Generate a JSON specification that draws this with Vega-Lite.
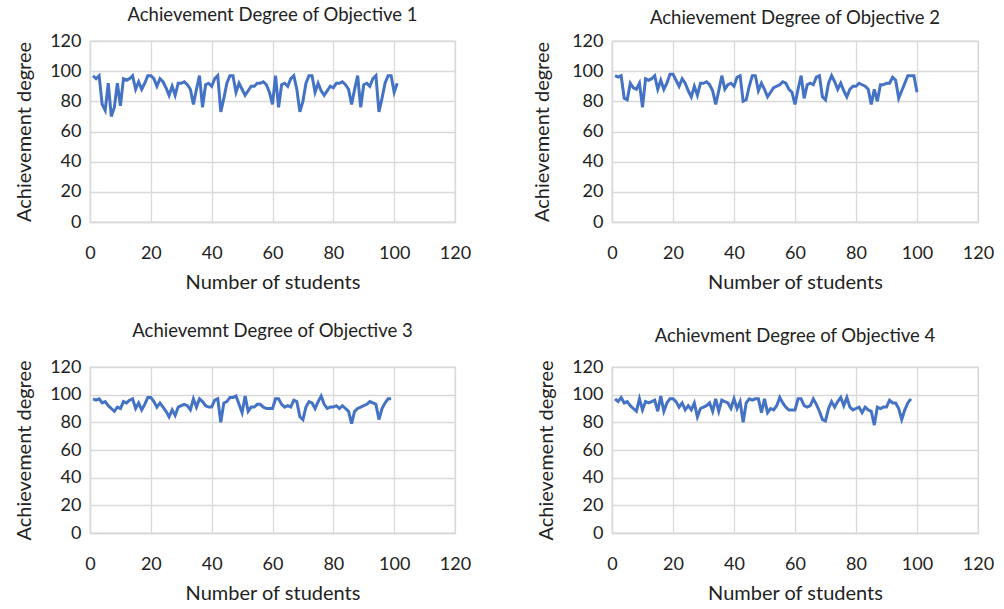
{
  "$schema": "https://vega.github.io/schema/vega-lite/v6.json",
  "background": "white",
  "padding": {"left": 14, "top": 5, "right": 5, "bottom": 5},
  "config": {
    "font": "Lato",
    "view": {"stroke": "#d9d9d9", "strokeWidth": 1.3},
    "axis": {
      "grid": true, "gridColor": "#d9d9d9", "gridWidth": 1.3,
      "domain": true, "domainColor": "#d9d9d9", "domainWidth": 1.3,
      "ticks": false, "tickSize": 0, "labelFlush": false,
      "labelFont": "Lato", "labelFontSize": 18, "labelColor": "#222222",
      "titleFont": "Lato", "titleFontSize": 20, "titleFontWeight": "normal", "titleColor": "#222222"
    },
    "axisX": {"labelPadding": 22, "titlePadding": 10},
    "axisY": {"labelPadding": 9, "titlePadding": 15},
    "title": {"font": "Lato", "fontSize": 18.5, "fontWeight": "normal", "color": "#222222", "anchor": "middle", "frame": "group"}
  },
  "datasets": {
    "o1": [
      {"s":1,"d":97},{"s":2,"d":95},{"s":3,"d":97},{"s":4,"d":78},{"s":5,"d":74},{"s":6,"d":92},{"s":7,"d":70},{"s":8,"d":76},{"s":9,"d":92},{"s":10,"d":77},
      {"s":11,"d":95},{"s":12,"d":94},{"s":13,"d":95},{"s":14,"d":97},{"s":15,"d":88},{"s":16,"d":93},{"s":17,"d":88},{"s":18,"d":92},{"s":19,"d":97},{"s":20,"d":97},
      {"s":21,"d":95},{"s":22,"d":90},{"s":23,"d":95},{"s":24,"d":93},{"s":25,"d":89},{"s":26,"d":84},{"s":27,"d":90},{"s":28,"d":84},{"s":29,"d":92},{"s":30,"d":92},
      {"s":31,"d":93},{"s":32,"d":91},{"s":33,"d":88},{"s":34,"d":78},{"s":35,"d":88},{"s":36,"d":97},{"s":37,"d":76},{"s":38,"d":91},{"s":39,"d":92},{"s":40,"d":90},
      {"s":41,"d":95},{"s":42,"d":97},{"s":43,"d":73},{"s":44,"d":82},{"s":45,"d":92},{"s":46,"d":97},{"s":47,"d":97},{"s":48,"d":86},{"s":49,"d":92},{"s":50,"d":88},
      {"s":51,"d":84},{"s":52,"d":87},{"s":53,"d":90},{"s":54,"d":90},{"s":55,"d":92},{"s":56,"d":92},{"s":57,"d":93},{"s":58,"d":91},{"s":59,"d":86},{"s":60,"d":78},
      {"s":61,"d":97},{"s":62,"d":76},{"s":63,"d":91},{"s":64,"d":92},{"s":65,"d":90},{"s":66,"d":95},{"s":67,"d":97},{"s":68,"d":88},{"s":69,"d":73},{"s":70,"d":80},
      {"s":71,"d":92},{"s":72,"d":97},{"s":73,"d":97},{"s":74,"d":86},{"s":75,"d":92},{"s":76,"d":87},{"s":77,"d":84},{"s":78,"d":87},{"s":79,"d":90},{"s":80,"d":89},
      {"s":81,"d":92},{"s":82,"d":92},{"s":83,"d":93},{"s":84,"d":91},{"s":85,"d":88},{"s":86,"d":78},{"s":87,"d":88},{"s":88,"d":97},{"s":89,"d":76},{"s":90,"d":91},
      {"s":91,"d":92},{"s":92,"d":90},{"s":93,"d":95},{"s":94,"d":97},{"s":95,"d":73},{"s":96,"d":82},{"s":97,"d":92},{"s":98,"d":97},{"s":99,"d":97},{"s":100,"d":86},
      {"s":101,"d":92}
    ],
    "o2": [
      {"s":1,"d":97},{"s":2,"d":96},{"s":3,"d":97},{"s":4,"d":82},{"s":5,"d":81},{"s":6,"d":92},{"s":7,"d":89},{"s":8,"d":88},{"s":9,"d":92},{"s":10,"d":76},
      {"s":11,"d":95},{"s":12,"d":94},{"s":13,"d":95},{"s":14,"d":97},{"s":15,"d":88},{"s":16,"d":94},{"s":17,"d":88},{"s":18,"d":92},{"s":19,"d":98},{"s":20,"d":98},
      {"s":21,"d":94},{"s":22,"d":90},{"s":23,"d":95},{"s":24,"d":92},{"s":25,"d":87},{"s":26,"d":83},{"s":27,"d":90},{"s":28,"d":84},{"s":29,"d":92},{"s":30,"d":92},
      {"s":31,"d":93},{"s":32,"d":91},{"s":33,"d":87},{"s":34,"d":78},{"s":35,"d":87},{"s":36,"d":97},{"s":37,"d":88},{"s":38,"d":91},{"s":39,"d":92},{"s":40,"d":90},
      {"s":41,"d":96},{"s":42,"d":97},{"s":43,"d":80},{"s":44,"d":81},{"s":45,"d":90},{"s":46,"d":97},{"s":47,"d":97},{"s":48,"d":87},{"s":49,"d":92},{"s":50,"d":88},
      {"s":51,"d":83},{"s":52,"d":86},{"s":53,"d":89},{"s":54,"d":90},{"s":55,"d":91},{"s":56,"d":93},{"s":57,"d":92},{"s":58,"d":88},{"s":59,"d":86},{"s":60,"d":78},
      {"s":61,"d":88},{"s":62,"d":97},{"s":63,"d":82},{"s":64,"d":91},{"s":65,"d":92},{"s":66,"d":91},{"s":67,"d":96},{"s":68,"d":97},{"s":69,"d":83},{"s":70,"d":81},
      {"s":71,"d":92},{"s":72,"d":97},{"s":73,"d":93},{"s":74,"d":88},{"s":75,"d":92},{"s":76,"d":87},{"s":77,"d":83},{"s":78,"d":88},{"s":79,"d":90},{"s":80,"d":90},
      {"s":81,"d":92},{"s":82,"d":91},{"s":83,"d":90},{"s":84,"d":88},{"s":85,"d":78},{"s":86,"d":88},{"s":87,"d":80},{"s":88,"d":91},{"s":89,"d":91},{"s":90,"d":92},
      {"s":91,"d":92},{"s":92,"d":96},{"s":93,"d":94},{"s":94,"d":82},{"s":95,"d":87},{"s":96,"d":92},{"s":97,"d":97},{"s":98,"d":97},{"s":99,"d":97},{"s":100,"d":86}
    ],
    "o3": [
      {"s":1,"d":97},{"s":2,"d":96},{"s":3,"d":97},{"s":4,"d":94},{"s":5,"d":95},{"s":6,"d":92},{"s":7,"d":90},{"s":8,"d":88},{"s":9,"d":91},{"s":10,"d":90},
      {"s":11,"d":95},{"s":12,"d":94},{"s":13,"d":96},{"s":14,"d":97},{"s":15,"d":90},{"s":16,"d":94},{"s":17,"d":89},{"s":18,"d":93},{"s":19,"d":98},{"s":20,"d":98},
      {"s":21,"d":95},{"s":22,"d":91},{"s":23,"d":94},{"s":24,"d":91},{"s":25,"d":88},{"s":26,"d":84},{"s":27,"d":89},{"s":28,"d":85},{"s":29,"d":91},{"s":30,"d":92},
      {"s":31,"d":93},{"s":32,"d":92},{"s":33,"d":89},{"s":34,"d":97},{"s":35,"d":91},{"s":36,"d":97},{"s":37,"d":95},{"s":38,"d":92},{"s":39,"d":91},{"s":40,"d":91},
      {"s":41,"d":96},{"s":42,"d":97},{"s":43,"d":80},{"s":44,"d":94},{"s":45,"d":95},{"s":46,"d":98},{"s":47,"d":98},{"s":48,"d":99},{"s":49,"d":93},{"s":50,"d":87},
      {"s":51,"d":99},{"s":52,"d":88},{"s":53,"d":91},{"s":54,"d":91},{"s":55,"d":93},{"s":56,"d":93},{"s":57,"d":91},{"s":58,"d":90},{"s":59,"d":90},{"s":60,"d":90},
      {"s":61,"d":97},{"s":62,"d":97},{"s":63,"d":93},{"s":64,"d":91},{"s":65,"d":92},{"s":66,"d":91},{"s":67,"d":96},{"s":68,"d":95},{"s":69,"d":84},{"s":70,"d":82},
      {"s":71,"d":91},{"s":72,"d":95},{"s":73,"d":94},{"s":74,"d":90},{"s":75,"d":95},{"s":76,"d":99},{"s":77,"d":93},{"s":78,"d":90},{"s":79,"d":91},{"s":80,"d":91},
      {"s":81,"d":92},{"s":82,"d":90},{"s":83,"d":92},{"s":84,"d":90},{"s":85,"d":88},{"s":86,"d":79},{"s":87,"d":88},{"s":88,"d":90},{"s":89,"d":91},{"s":90,"d":92},
      {"s":91,"d":93},{"s":92,"d":95},{"s":93,"d":94},{"s":94,"d":93},{"s":95,"d":82},{"s":96,"d":90},{"s":97,"d":94},{"s":98,"d":97},{"s":99,"d":97}
    ],
    "o4": [
      {"s":1,"d":97},{"s":2,"d":95},{"s":3,"d":98},{"s":4,"d":94},{"s":5,"d":95},{"s":6,"d":92},{"s":7,"d":90},{"s":8,"d":88},{"s":9,"d":97},{"s":10,"d":89},
      {"s":11,"d":95},{"s":12,"d":94},{"s":13,"d":95},{"s":14,"d":96},{"s":15,"d":88},{"s":16,"d":99},{"s":17,"d":88},{"s":18,"d":94},{"s":19,"d":97},{"s":20,"d":97},
      {"s":21,"d":95},{"s":22,"d":91},{"s":23,"d":94},{"s":24,"d":89},{"s":25,"d":92},{"s":26,"d":89},{"s":27,"d":94},{"s":28,"d":84},{"s":29,"d":90},{"s":30,"d":91},
      {"s":31,"d":92},{"s":32,"d":94},{"s":33,"d":88},{"s":34,"d":97},{"s":35,"d":88},{"s":36,"d":96},{"s":37,"d":95},{"s":38,"d":94},{"s":39,"d":90},{"s":40,"d":97},
      {"s":41,"d":90},{"s":42,"d":95},{"s":43,"d":80},{"s":44,"d":94},{"s":45,"d":97},{"s":46,"d":96},{"s":47,"d":97},{"s":48,"d":97},{"s":49,"d":87},{"s":50,"d":97},
      {"s":51,"d":87},{"s":52,"d":90},{"s":53,"d":89},{"s":54,"d":92},{"s":55,"d":98},{"s":56,"d":94},{"s":57,"d":91},{"s":58,"d":89},{"s":59,"d":89},{"s":60,"d":89},
      {"s":61,"d":97},{"s":62,"d":97},{"s":63,"d":92},{"s":64,"d":91},{"s":65,"d":92},{"s":66,"d":97},{"s":67,"d":93},{"s":68,"d":88},{"s":69,"d":82},{"s":70,"d":81},
      {"s":71,"d":90},{"s":72,"d":95},{"s":73,"d":91},{"s":74,"d":95},{"s":75,"d":98},{"s":76,"d":92},{"s":77,"d":98},{"s":78,"d":91},{"s":79,"d":89},{"s":80,"d":90},
      {"s":81,"d":91},{"s":82,"d":87},{"s":83,"d":91},{"s":84,"d":89},{"s":85,"d":88},{"s":86,"d":78},{"s":87,"d":91},{"s":88,"d":90},{"s":89,"d":91},{"s":90,"d":91},
      {"s":91,"d":96},{"s":92,"d":94},{"s":93,"d":94},{"s":94,"d":90},{"s":95,"d":82},{"s":96,"d":89},{"s":97,"d":94},{"s":98,"d":97}
    ]
  },
  "bounds": "flush",
  "columns": 2,
  "spacing": {"row": 145, "column": 157},
  "concat": [
    {
      "data": {"name": "o1"},
      "title": {"text": "Achievement Degree of Objective 1", "offset": 7.5},
      "width": 365, "height": 181,
      "mark": {"type": "line", "color": "#4472C4", "strokeWidth": 3},
      "encoding": {
        "x": {"field": "s", "type": "quantitative", "scale": {"domain": [0, 120], "nice": false}, "axis": {"values": [0,20,40,60,80,100,120], "title": "Number of students"}},
        "y": {"field": "d", "type": "quantitative", "scale": {"domain": [0, 120], "nice": false}, "axis": {"values": [0,20,40,60,80,100,120], "title": "Achievement degree"}}
      }
    },
    {
      "data": {"name": "o2"},
      "title": {"text": "Achievement Degree of Objective 2", "offset": 5},
      "width": 366, "height": 181,
      "mark": {"type": "line", "color": "#4472C4", "strokeWidth": 3},
      "encoding": {
        "x": {"field": "s", "type": "quantitative", "scale": {"domain": [0, 120], "nice": false}, "axis": {"values": [0,20,40,60,80,100,120], "title": "Number of students"}},
        "y": {"field": "d", "type": "quantitative", "scale": {"domain": [0, 120], "nice": false}, "axis": {"values": [0,20,40,60,80,100,120], "title": "Achievement degree", "titlePadding": 19}}
      }
    },
    {
      "data": {"name": "o3"},
      "title": {"text": "Achievemnt Degree of Objective 3", "offset": 18},
      "width": 365, "height": 166,
      "mark": {"type": "line", "color": "#4472C4", "strokeWidth": 3},
      "encoding": {
        "x": {"field": "s", "type": "quantitative", "scale": {"domain": [0, 120], "nice": false}, "axis": {"values": [0,20,40,60,80,100,120], "title": "Number of students"}},
        "y": {"field": "d", "type": "quantitative", "scale": {"domain": [0, 120], "nice": false}, "axis": {"values": [0,20,40,60,80,100,120], "title": "Achievement degree"}}
      }
    },
    {
      "data": {"name": "o4"},
      "title": {"text": "Achievment Degree of Objective 4", "offset": 13},
      "width": 366, "height": 166,
      "mark": {"type": "line", "color": "#4472C4", "strokeWidth": 3},
      "encoding": {
        "x": {"field": "s", "type": "quantitative", "scale": {"domain": [0, 120], "nice": false}, "axis": {"values": [0,20,40,60,80,100,120], "title": "Number of students"}},
        "y": {"field": "d", "type": "quantitative", "scale": {"domain": [0, 120], "nice": false}, "axis": {"values": [0,20,40,60,80,100,120], "title": "Achievement degree"}}
      }
    }
  ]
}
